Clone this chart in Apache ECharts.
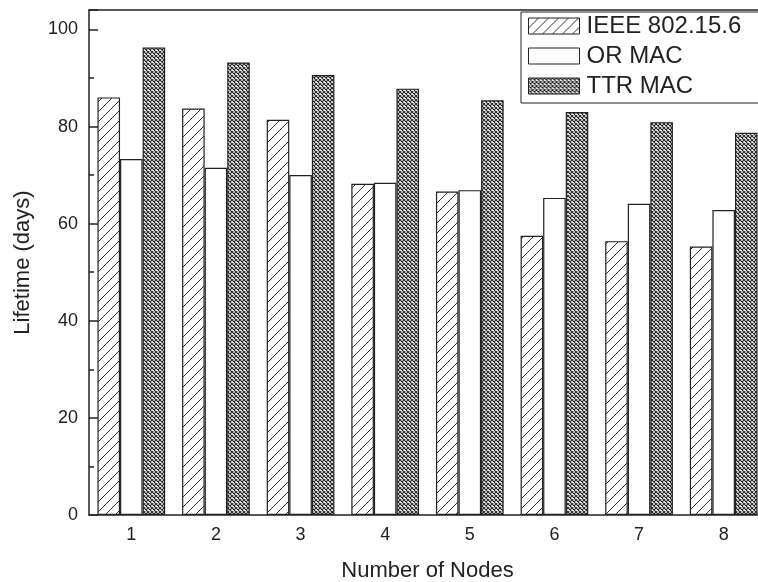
<!DOCTYPE html>
<html><head><meta charset="utf-8">
<script src="https://cdn.jsdelivr.net/npm/echarts@6/dist/echarts.min.js"></script>
<style>html,body{margin:0;padding:0;background:#fff}#c{width:758px;height:582px}</style>
</head><body><div id="c"></div>
<script>
const categories = ['1','2','3','4','5','6','7','8'];
const seriesNames = ['IEEE 802.15.6','OR MAC','TTR MAC'];
const ieee = [86.0, 83.7, 81.4, 68.2, 66.6, 57.5, 56.4, 55.3];
const ormac = [73.3, 71.5, 70.0, 68.4, 66.9, 65.3, 64.1, 62.8];
const ttrmac = [96.3, 93.2, 90.6, 87.8, 85.4, 83.0, 80.9, 78.7];
const yTicks = [0, 20, 40, 60, 80, 100];

function hatch(){
  const s=10;
  const c=document.createElement('canvas'); c.width=s; c.height=s;
  const g=c.getContext('2d'); g.fillStyle='#fff'; g.fillRect(0,0,s,s);
  g.strokeStyle='#333'; g.lineWidth=1;
  g.beginPath(); g.moveTo(0,s); g.lineTo(s,0);
  g.moveTo(-1,1); g.lineTo(1,-1); g.moveTo(s-1,s+1); g.lineTo(s+1,s-1); g.stroke();
  return {image:c, repeat:'repeat'};
}
function cross(){
  const c=document.createElement('canvas'); c.width=4; c.height=4;
  const g=c.getContext('2d'); g.fillStyle='#fff'; g.fillRect(0,0,4,4);
  g.strokeStyle='#222'; g.lineWidth=1.1;
  g.beginPath(); g.moveTo(0,0); g.lineTo(4,4); g.moveTo(4,0); g.lineTo(0,4); g.stroke();
  return {image:c, repeat:'repeat'};
}
const fills=[hatch(), '#ffffff', cross()];
const dataSets=[ieee, ormac, ttrmac];

const chart = echarts.init(document.getElementById('c'), null, {renderer:'canvas'});
const font = 'Liberation Sans, Arial, sans-serif';
const axisLineStyle = {color:'#222', width:1.5};
chart.setOption({
  animation:false,
  backgroundColor:'#fff',
  grid:{left:89, top:10, width:677, height:505, containLabel:false, outerBoundsMode:'none'},
  legend:{
    data:seriesNames, orient:'vertical', left:521, top:12,
    itemWidth:51, itemHeight:16, itemGap:6,
    padding:[2,20,5,7],
    borderColor:'#222', borderWidth:1, backgroundColor:'#fff',
    icon:'rect',
    textStyle:{fontFamily:font, fontSize:24, color:'#222', padding:[0,0,0,2]},
    itemStyle:{borderColor:'#222', borderWidth:1}
  },
  xAxis:[
    {type:'category', data:categories, position:'bottom',
     name:'Number of Nodes', nameLocation:'middle', nameGap:45,
     nameTextStyle:{fontFamily:font, fontSize:22, color:'#222'},
     axisLine:{lineStyle:axisLineStyle},
     axisTick:{inside:true, alignWithLabel:true, length:9, lineStyle:{color:'#222', width:1.5}},
     axisLabel:{fontFamily:font, fontSize:18, color:'#222', margin:11},
     splitLine:{show:false}},
    {type:'category', data:categories, position:'top',
     axisLine:{lineStyle:axisLineStyle},
     axisTick:{inside:true, alignWithLabel:true, length:2, lineStyle:{color:'#666', width:1}},
     axisLabel:{show:false}, splitLine:{show:false}},
    {type:'category', data:categories, position:'top',
     axisLine:{show:false},
     axisTick:{inside:true, length:2, lineStyle:{color:'#666', width:1}},
     axisLabel:{show:false}, splitLine:{show:false}}
  ],
  yAxis:[{
    type:'value', min:0, max:104, interval:20,
    name:'Lifetime (days)', nameLocation:'middle', nameGap:55, nameRotate:90,
    nameTextStyle:{fontFamily:font, fontSize:22, color:'#222'},
    axisLine:{show:true, lineStyle:axisLineStyle},
    axisTick:{show:true, inside:true, length:9, lineStyle:{color:'#222', width:1.5}},
    minorTick:{show:true, splitNumber:2, length:5, lineStyle:{color:'#222', width:1.5}},
    axisLabel:{fontFamily:font, fontSize:18, color:'#222', margin:11,
      formatter:v=> yTicks.includes(v)? String(v):''},
    splitLine:{show:false}
  }],
  series: seriesNames.map((n,i)=>({
    name:n, type:'bar', data:dataSets[i], xAxisIndex:0,
    barGap:'0%', barCategoryGap:'20%',
    itemStyle:{color:fills[i], borderColor:'#222', borderWidth:1.2}
  }))
});
</script></body></html>
